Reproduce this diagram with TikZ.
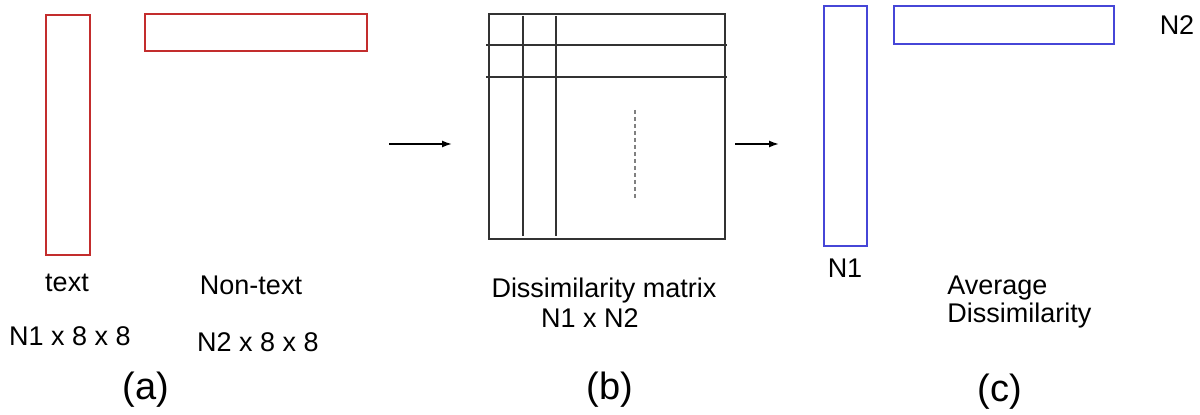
\documentclass[tikz,border=0pt]{standalone}
\usepackage{fontspec}
\setmainfont{Liberation Sans}
\usetikzlibrary{arrows.meta}
\definecolor{boxred}{RGB}{195,45,45}
\definecolor{boxblue}{RGB}{70,70,215}
\begin{document}
\begin{tikzpicture}[x=0.5pt, y=-0.5pt,
  cell/.style={draw, line width=1pt, inner sep=0pt, outer sep=0pt},
  lbl/.style={font=\fontsize{13.5}{15}\selectfont, inner sep=0pt},
  tag/.style={font=\fontsize{19}{22}\selectfont, inner sep=0pt},
  flow/.style={-{Latex[length=5pt,width=3.5pt]}, line width=0.8pt}
]
\useasboundingbox (0,0) rectangle (1200,415);
% (a) text and non-text blocks
\node[cell, boxred, minimum width=22pt, minimum height=120pt] (textblk) at (68,135) {};
\node[cell, boxred, minimum width=111pt, minimum height=18.5pt] (nontextblk) at (256,32.5) {};
\node[lbl] (textlbl) at (67,283) {text};
\node[lbl] (nontextlbl) at (251,285) {Non-text};
\node[lbl] (textsize) at (70,336) {N1 x 8 x 8};
\node[lbl] (nontextsize) at (258,342) {N2 x 8 x 8};
\node[tag] (taga) at (146,390) {(a)};
% (b) dissimilarity matrix
\node[cell, black!80, minimum width=118pt, minimum height=112.5pt] (mat) at (607,126.5) {};
\foreach \cx in {523,556}
  \draw[black!80, line width=1pt] (\cx,16) -- (\cx,236);
\foreach \ry in {45,77}
  \draw[black!80, line width=1pt] (486,\ry) -- (727,\ry);
\draw[gray, dashed, dash pattern=on 2pt off 1.5pt, line width=0.6pt] (635,110) -- (635,200);
\node[lbl] (matlbl) at (604,291) {Dissimilarity matrix};
\node[lbl] (matsize) at (590,318) {N1 x N2};
\node[tag] (tagb) at (610,390) {(b)};
% (c) average dissimilarity
\node[cell, boxblue, minimum width=21.5pt, minimum height=120pt] (avgone) at (845.5,126) {};
\node[cell, boxblue, minimum width=110pt, minimum height=19pt] (avgtwo) at (1004,25) {};
\node[lbl] (nonelbl) at (845,268) {N1};
\node[lbl] (ntwolbl) at (1177,25) {N2};
\node[lbl, anchor=west, align=left, font=\fontsize{13.5}{14}\selectfont] (avglbl) at (947,302) {Average\\Dissimilarity};
\node[tag] (tagc) at (1000,392) {(c)};
% arrows between stages
\coordinate (ain) at (389,144);
\coordinate (aout) at (452,144);
\coordinate (bin) at (735,144);
\coordinate (bout) at (779,144);
\draw[flow] (ain) -- (aout);
\draw[flow] (bin) -- (bout);
\end{tikzpicture}
\end{document}
